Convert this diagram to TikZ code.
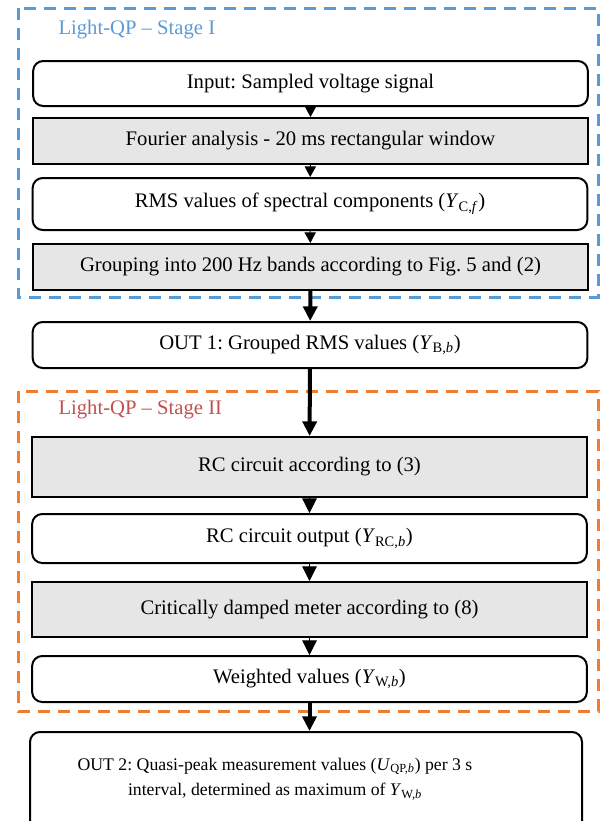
\documentclass[tikz,border=0pt]{standalone}
\usepackage{fontspec}
\setmainfont{Liberation Serif}
\usetikzlibrary{arrows.meta}

\definecolor{stageblue}{RGB}{91,155,213}
\definecolor{stageorange}{RGB}{237,125,49}
\definecolor{stagered}{RGB}{192,80,77}
\definecolor{boxgray}{RGB}{230,230,230}

\newcommand{\varsub}[2]{\textit{#1}\textsubscript{#2}}

\tikzset{every picture/.style={line width=0.75pt}}
\tikzset{
  boxtext/.style={font=\rmfamily\frenchspacing\fontsize{15.5}{18}\selectfont, inner sep=0pt},
  roundbox/.style={boxtext, draw, line width=1.5pt, rounded corners=7.5pt, fill=white, minimum width=416pt},
  graybox/.style={boxtext, draw, line width=1.5pt, fill=boxgray, minimum width=416pt},
  stagebox/.style={line width=2.25pt, dash pattern=on 9pt off 6pt},
  flow/.style={-{Triangle[length=8pt,width=8.5pt]}, line width=0.75pt},
  wideflow/.style={-{Triangle[length=11pt,width=11pt]}, line width=0.75pt},
  bigflow/.style={-{Triangle[length=11pt,width=10.5pt]}, line width=3pt}
}

\begin{document}
\begin{tikzpicture}[x=0.75pt,y=0.75pt,yscale=-1,xscale=1]
\path[use as bounding box] (0,0) rectangle (607,821);
\clip (0,0) rectangle (607,821);

%Shape: Stage frames
\draw [stagebox, stageblue] (18,8) rectangle (598,297);
\draw [stagebox, stageorange] (18,391) rectangle (598,711);

% Text Node
\node [boxtext, anchor=west, text=stageblue] (stageone) at (58,30) {Light-QP -- Stage I};
% Text Node
\node [boxtext, anchor=west, text=stagered] (stagetwo) at (58,410) {Light-QP -- Stage II};

%Shape: Stage I blocks
\node [roundbox, minimum height=33.75pt] (input) at (310.5,83.5) {Input: Sampled voltage signal};
\node [graybox, minimum height=34.5pt] (fourier) at (310.5,141) {Fourier analysis - 20 ms rectangular window};
\node [roundbox, minimum height=39pt] (rms) at (310,204) {RMS values of spectral components (\varsub{Y}{C,\textit{f}})};
\node [graybox, minimum height=34.5pt] (grouping) at (310.5,267) {Grouping into 200 Hz bands according to Fig. 5 and (2)};

%Shape: OUT 1
\node [roundbox, minimum height=34.5pt] (out1) at (310,345) {OUT 1: Grouped RMS values (\varsub{Y}{B,\textit{b}})};

%Shape: Stage II blocks
\node [graybox, minimum height=45pt] (rc) at (309.5,467) {RC circuit according to (3)};
\node [roundbox, minimum height=36.75pt] (rcout) at (309.5,538.5) {RC circuit output (\varsub{Y}{RC,\textit{b}})};
\node [graybox, minimum height=41.25pt] (meter) at (309.5,609.5) {Critically damped meter according to (8)};
\node [roundbox, minimum height=34.5pt] (weighted) at (309.5,679) {Weighted values (\varsub{Y}{W,\textit{b}})};

%Shape: OUT 2
\node [roundbox, minimum width=414pt, minimum height=90pt] (out2) at (306,792) {};
% Text Node
\node [boxtext, font=\rmfamily\frenchspacing\fontsize{13.3}{19}\selectfont, align=center] (out2text) at (275,779) {OUT 2: Quasi-peak measurement values (\varsub{U}{QP,\textit{b}}) per 3 s\\interval, determined as maximum of \varsub{Y}{W,\textit{b}}};

%Connectors
\draw [flow] (input) -- (fourier);
\draw [flow] (fourier) -- (rms);
\draw [flow] (rms) -- (grouping);
\draw [bigflow] (grouping) -- (out1);
\draw [bigflow] (out1) -- (rc);
\draw [wideflow] (rc) -- (rcout);
\draw [wideflow] (rcout) -- (meter);
\draw [wideflow] (meter) -- (weighted);
\draw [bigflow] (weighted.south) -- (out2.north -| weighted.south);

\end{tikzpicture}
\end{document}
